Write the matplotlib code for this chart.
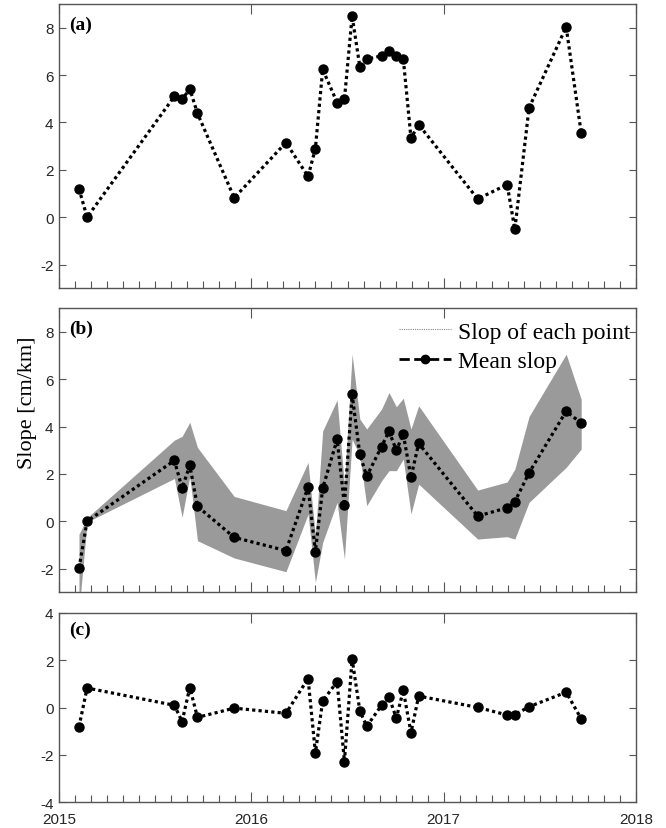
import numpy as np
import matplotlib
matplotlib.use("Agg")
import matplotlib.pyplot as plt
from matplotlib.lines import Line2D
from matplotlib.ticker import FixedLocator, MultipleLocator

# acquisition dates (decimal years)
dates = [2015.104, 2015.146, 2015.600, 2015.640, 2015.680, 2015.720, 2015.911,
         2016.180, 2016.295, 2016.333, 2016.371, 2016.446, 2016.484, 2016.524,
         2016.564, 2016.600, 2016.677, 2016.716, 2016.754, 2016.790, 2016.830,
         2016.870, 2017.177, 2017.330, 2017.370, 2017.444, 2017.637, 2017.715]

panel_a = [1.20, 0.00, 5.10, 4.97, 5.42, 4.38, 0.82,
           3.15, 1.72, 2.90, 6.24, 4.84, 4.97, 8.49,
           6.36, 6.67, 6.81, 7.03, 6.81, 6.69, 3.34,
           3.91, 0.77, 1.38, -0.51, 4.62, 8.03, 3.56]

mean_slope = [-1.98, 0.00, 2.57, 1.40, 2.36, 0.63, -0.68,
              -1.24, 1.45, -1.28, 1.39, 3.46, 0.69, 5.36,
              2.83, 1.90, 3.16, 3.80, 3.00, 3.68, 1.86,
              3.29, 0.22, 0.57, 0.83, 2.05, 4.65, 4.15]

slope_upper = [-0.55, 0.15, 3.43, 3.59, 4.18, 3.12, 1.05,
               0.45, 2.49, -0.60, 3.82, 5.13, 1.50, 7.06,
               4.32, 3.90, 4.74, 5.44, 4.84, 5.20, 3.90,
               4.88, 1.32, 1.66, 2.20, 4.43, 7.06, 5.16]

slope_lower = [-3.80, -0.03, 1.81, 0.17, 1.90, -0.82, -1.55,
               -2.13, 0.30, -2.58, -0.89, 0.80, -1.59, 3.47,
               2.77, 0.66, 1.71, 2.14, 2.14, 2.63, 0.31,
               1.57, -0.75, -0.65, -0.75, 0.80, 2.28, 3.05]

panel_c = [-0.81, 0.83, 0.10, -0.59, 0.85, -0.41, -0.02,
           -0.24, 1.23, -1.91, 0.28, 1.10, -2.28, 2.06,
           -0.13, -0.79, 0.10, 0.44, -0.44, 0.73, -1.06,
           0.49, 0.01, -0.31, -0.30, 0.04, 0.65, -0.47]

year_ticks = [2015, 2016, 2017, 2018]
year_labels = ["2015", "2016", "2017", "2018"]

W, H = 666, 829
fig = plt.figure(figsize=(W / 100, H / 100), dpi=100)

left = 59 / W
width = (636 - 59) / W
def rect(top_px, bot_px):
    return [left, 1 - bot_px / H, width, (bot_px - top_px) / H]

ax_a = fig.add_axes(rect(5, 289.3))
ax_b = fig.add_axes(rect(309.3, 593.3))
ax_c = fig.add_axes(rect(614, 803.3))

spine_col = "#555555"
tick_col = "#262626"
line_kw = dict(color="black", linestyle=(0, (1, 1)), linewidth=2.3,
               marker="o", markersize=6.5, markerfacecolor="black",
               markeredgecolor="black")

ax_a.plot(dates, panel_a, **line_kw)
ax_b.fill_between(dates, slope_lower, slope_upper, color="#9a9a9a",
                  linewidth=0)
ax_b.plot(dates, mean_slope, **line_kw)
ax_c.plot(dates, panel_c, **line_kw)

for ax, ylim, yt in [(ax_a, (-3, 9), [-2, 0, 2, 4, 6, 8]),
                     (ax_b, (-3, 9), [-2, 0, 2, 4, 6, 8]),
                     (ax_c, (-4, 4), [-4, -2, 0, 2, 4])]:
    ax.set_xlim(2015, 2018)
    ax.set_ylim(*ylim)
    ax.set_yticks(yt)
    ax.set_yticklabels([str(v) for v in yt], fontsize=11,
                       family="Liberation Sans", color=tick_col)
    ax.xaxis.set_major_locator(FixedLocator(year_ticks))
    ax.xaxis.set_minor_locator(MultipleLocator(1 / 12))
    for s in ax.spines.values():
        s.set_color(spine_col)
        s.set_linewidth(1.0)
    ax.tick_params(axis="x", which="major", direction="in", length=7,
                   top=True, bottom=True, color=spine_col, width=0.8,
                   pad=7)
    ax.tick_params(axis="x", which="minor", direction="in", length=5,
                   top=False, bottom=True, color=spine_col, width=0.8)
    ax.tick_params(axis="y", which="major", direction="in", length=5,
                   left=True, right=True, color=spine_col, width=0.8,
                   pad=4)

ax_a.set_xticklabels([])
ax_b.set_xticklabels([])
ax_c.set_xticklabels(year_labels, fontsize=11, family="Liberation Sans",
                     color=tick_col)

for ax, lab in [(ax_a, "(a)"), (ax_b, "(b)"), (ax_c, "(c)")]:
    ax.text(0.018, 0.96, lab, transform=ax.transAxes, ha="left", va="top",
            fontsize=14, fontweight="bold", family="Liberation Serif")

ax_b.set_ylabel("Slope [cm/km]", fontsize=16, family="Liberation Serif")
ax_b.yaxis.set_label_coords(-0.038, 0.67)

handles = [Line2D([], [], color="#888888", linestyle=(0, (1, 1)),
                  linewidth=0.8),
           Line2D([], [], color="black", linestyle="--", linewidth=2,
                  marker="o", markersize=6)]
leg = ax_b.legend(handles, ["Slop of each point", "Mean slop"],
                  loc="upper right", bbox_to_anchor=(1.015, 1.005),
                  frameon=False, handlelength=2.2, handletextpad=0.3,
                  labelspacing=0.35, borderaxespad=0.2,
                  prop={"family": "Liberation Serif", "size": 17})

fig.savefig("out.png", dpi=100)
